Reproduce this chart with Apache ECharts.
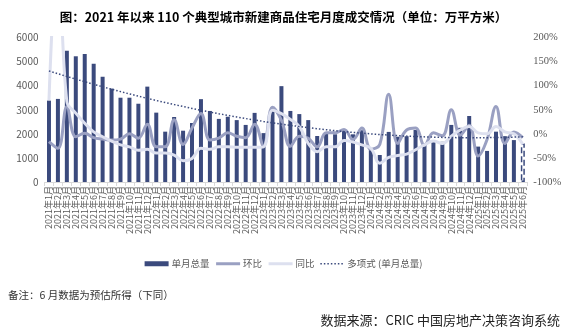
<!DOCTYPE html>
<html>
<head>
<meta charset="utf-8">
<script src="https://cdn.jsdelivr.net/npm/echarts@6/dist/echarts.min.js"></script>
<style>
  html, body { margin: 0; padding: 0; background: #fff; }
  #chart { width: 567px; height: 336px; }
</style>
</head>
<body>
<div id="chart"></div>
<script>
// Monthly categories, Jan 2021 – Jun 2025
const categories = [
  '2021年1月','2021年2月','2021年3月','2021年4月','2021年5月','2021年6月',
  '2021年7月','2021年8月','2021年9月','2021年10月','2021年11月','2021年12月',
  '2022年1月','2022年2月','2022年3月','2022年4月','2022年5月','2022年6月',
  '2022年7月','2022年8月','2022年9月','2022年10月','2022年11月','2022年12月',
  '2023年1月','2023年2月','2023年3月','2023年4月','2023年5月','2023年6月',
  '2023年7月','2023年8月','2023年9月','2023年10月','2023年11月','2023年12月',
  '2024年1月','2024年2月','2024年3月','2024年4月','2024年5月','2024年6月',
  '2024年7月','2024年8月','2024年9月','2024年10月','2024年11月','2024年12月',
  '2025年1月','2025年2月','2025年3月','2025年4月','2025年5月','2025年6月'
];

// 单月总量 (万平方米); the last month is an estimate
const volume = [
  3380, 3450, 5450, 5220, 5320, 4910, 4370, 3880, 3500, 3500, 3250, 3960,
  2880, 2090, 2700, 2130, 2450, 3440, 2950, 2620, 2710, 2570, 2370, 2870,
  2030, 3100, 3980, 2950, 2820, 2570, 1910, 2020, 1980, 2160, 1980, 2150,
  1400, 1120, 2080, 1880, 1900, 2160, 1600, 1680, 1670, 2370, 2250, 2740,
  1470, 1290, 2090, 1900, 1740, 1600
];

// 环比 (%)
const momPct = [
  -16, -30, 56, -6, 1, -8, -11, -13, -11, 0, -9, 20,
  -27, -27, 29, -22, 12, 42, -13, -9, 2, -5, -8, 20,
  -25, 55, 28, -26, -5, -9, -27, 2, 2, 9, -12, 12,
  -32, -22, 82, -20, 8, 12, -24, 2, -4, 50, -3, 18,
  -46, -12, 57, -20, 4, -8
];

// 同比 (%)
const yoyPct = [
  70, 380, 67, 43, 22, 4, -6, -15, -23, -27, -34, -32,
  -40, -40, -44, -56, -51, -30, -32, -27, -27, -28, -28, -28,
  -27, 49, 42, 30, 15, -20, -37, -27, -27, -14, -17, -23,
  -30, -61, -49, -45, -42, -33, -23, -15, -20, -5, 8, 15,
  2, 0, 15, 4, 0, -22
];

// Axis tick settings
const leftTicks = { min: 0, max: 6000, interval: 1000 };
const rightTicks = { min: -100, max: 200, interval: 50 };

// Polynomial least-squares trendline of the monthly volume (x = 1..n)
function polyTrend(values, order) {
  const n = values.length, m = order + 1;
  const A = [];
  for (let r = 0; r < m; r++) {
    A.push(new Array(m + 1).fill(0));
  }
  for (let i = 0; i < n; i++) {
    const x = (i + 1) / n, y = values[i];
    const pw = [];
    let p = 1;
    for (let k = 0; k <= 2 * order; k++) { pw.push(p); p *= x; }
    for (let r = 0; r < m; r++) {
      for (let c = 0; c < m; c++) A[r][c] += pw[r + c];
      A[r][m] += pw[r] * y;
    }
  }
  for (let c = 0; c < m; c++) {
    let piv = c;
    for (let r = c + 1; r < m; r++) if (Math.abs(A[r][c]) > Math.abs(A[piv][c])) piv = r;
    [A[c], A[piv]] = [A[piv], A[c]];
    for (let r = 0; r < m; r++) {
      if (r === c) continue;
      const f = A[r][c] / A[c][c];
      for (let k = c; k <= m; k++) A[r][k] -= f * A[c][k];
    }
  }
  const coef = A.map((row, r) => row[m] / row[r]);
  return values.map((_, i) => {
    const x = (i + 1) / n;
    let s = 0, p = 1;
    for (let k = 0; k < m; k++) { s += coef[k] * p; p *= x; }
    return +s.toFixed(1);
  });
}

const NAVY = '#3b4a7d';
const MOM_COLOR = '#9aa0c2';
const YOY_COLOR = '#dde0ef';
const AXIS_GRAY = '#d9d9d9';
const TEXT_GRAY = '#595959';

const barData = volume.map((v, i) => i === volume.length - 1
  ? { value: v, itemStyle: { color: '#ffffff', borderColor: NAVY, borderWidth: 1.5, borderType: 'dashed' } }
  : v);

const chart = echarts.init(document.getElementById('chart'), null, { renderer: 'canvas' });

chart.setOption({
  animation: false,
  backgroundColor: '#ffffff',
  textStyle: { fontFamily: '"Noto Sans CJK SC", "Noto Sans", sans-serif' },
  title: {
    text: '图：2021 年以来 110 个典型城市新建商品住宅月度成交情况（单位：万平方米）',
    left: 'center',
    top: 6,
    textStyle: { fontSize: 12.5, fontWeight: 'bold', color: '#000', fontFamily: '"Noto Sans CJK SC", sans-serif' }
  },
  legend: {
    left: 'center',
    top: 254,
    itemGap: 5,
    itemWidth: 24,
    itemHeight: 5,
    textStyle: { fontSize: 9.5, color: TEXT_GRAY, padding: [0, 0, 0, -2] },
    data: [
      { name: '单月总量', icon: 'rect', itemStyle: { color: NAVY, borderWidth: 0 } },
      { name: '环比', itemStyle: { opacity: 0 }, lineStyle: { width: 3, color: MOM_COLOR } },
      { name: '同比', itemStyle: { opacity: 0 }, lineStyle: { width: 3, color: YOY_COLOR } },
      { name: '多项式 (单月总量)', itemStyle: { opacity: 0 }, lineStyle: { width: 1.5, color: NAVY, type: [1.5, 2] } }
    ]
  },
  grid: { left: 44.5, right: 39.7, top: 37.5, bottom: 154, containLabel: false },
  xAxis: {
    type: 'category',
    data: categories,
    boundaryGap: true,
    axisLine: { lineStyle: { color: AXIS_GRAY } },
    axisTick: { show: true, length: 4, lineStyle: { color: AXIS_GRAY } },
    axisLabel: { rotate: 90, interval: 0, fontSize: 9, color: TEXT_GRAY, margin: 4 }
  },
  yAxis: [
    {
      type: 'value',
      min: leftTicks.min, max: leftTicks.max, interval: leftTicks.interval,
      axisLine: { show: false },
      axisTick: { show: false },
      splitLine: { show: false },
      axisLabel: { fontSize: 10, color: TEXT_GRAY, margin: 6, formatter: (v) => String(v) }
    },
    {
      type: 'value',
      min: rightTicks.min, max: rightTicks.max, interval: rightTicks.interval,
      axisLine: { show: false },
      axisTick: { show: false },
      splitLine: { show: false },
      axisLabel: { fontSize: 10.5, color: TEXT_GRAY, margin: 6, formatter: '{value}%', fontFamily: '"Liberation Serif", serif' }
    }
  ],
  series: [
    {
      name: '单月总量',
      type: 'bar',
      yAxisIndex: 0,
      barWidth: 4,
      itemStyle: { color: NAVY },
      data: barData,
      z: 2
    },
    {
      name: '环比',
      type: 'line',
      yAxisIndex: 1,
      smooth: 0.4,
      symbol: 'none',
      clip: true,
      lineStyle: { color: MOM_COLOR, width: 3 },
      itemStyle: { color: MOM_COLOR },
      data: momPct,
      z: 3
    },
    {
      name: '同比',
      type: 'line',
      yAxisIndex: 1,
      smooth: 0.4,
      symbol: 'none',
      clip: true,
      lineStyle: { color: YOY_COLOR, width: 3 },
      itemStyle: { color: YOY_COLOR },
      data: yoyPct,
      z: 4
    },
    {
      name: '多项式 (单月总量)',
      type: 'line',
      yAxisIndex: 0,
      symbol: 'none',
      lineStyle: { color: NAVY, width: 1.5, type: [1.5, 2] },
      itemStyle: { color: NAVY },
      data: polyTrend(volume, 2),
      z: 5
    }
  ],
  graphic: [
    {
      type: 'text',
      left: 8,
      top: 290,
      style: { text: '备注：6 月数据为预估所得（下同）', fontSize: 10.5, fill: '#333', fontFamily: '"Noto Sans CJK SC", sans-serif' }
    },
    {
      type: 'text',
      right: 7,
      top: 314,
      style: { text: '数据来源：CRIC 中国房地产决策咨询系统', fontSize: 13, fill: '#222', fontFamily: '"Noto Sans CJK SC", sans-serif' }
    }
  ]
});
</script>
</body>
</html>
